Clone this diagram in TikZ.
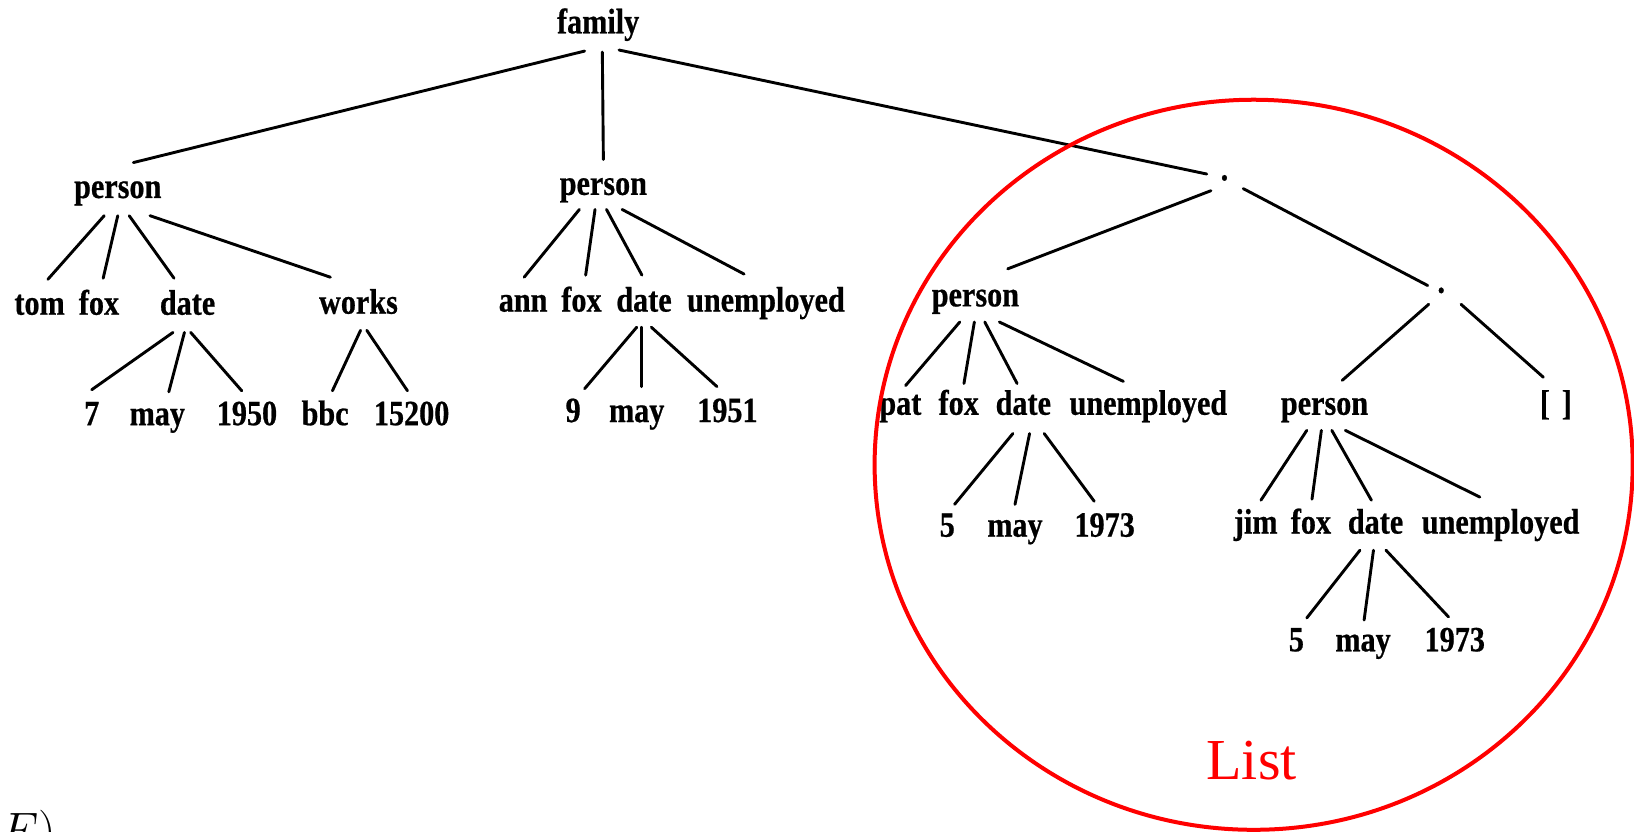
\documentclass[tikz,border=0pt]{standalone}
\usepackage{fontspec}
\setmainfont{Liberation Serif}
\newfontfamily\treefont{Liberation Serif}[FakeStretch=0.85, BoldFeatures={FakeBold=0.6}]
\usetikzlibrary{calc,shapes.geometric}

% one branch of the term tree: parent, offset at parent, child, offset at child
\newcommand{\branch}[6]{\draw[branchline] ($(#1.base)+(#2,#3)$) -- ($(#4.base)+(#5,#6)$);}

\begin{document}
\begin{tikzpicture}[
  x=0.521pt, y=-0.521pt,
  lbl/.style={inner sep=0pt, anchor=base, font=\treefont\bfseries\fontsize{17.75pt}{20pt}\selectfont},
  branchline/.style={line width=1.45pt, line cap=round},
  listring/.style={draw=red, line width=2pt, ellipse, inner sep=0pt},
]
\clip (0,0) rectangle (1568,798);
\fill[white] (0,0) rectangle (1568,798);

% root and first level
\node[lbl] (fam) at (574,32) {family};
\node[lbl] (p1) at (113,190) {person};
\node[lbl] (p2) at (579,187) {person};
\node[lbl] (d1) at (1175,173) {.};

% first person
\node[lbl] (tom) at (38,302) {tom};
\node[lbl] (fox1) at (95,302) {fox};
\node[lbl] (date1) at (180,302) {date};
\node[lbl] (works) at (344,301) {works};
\node[lbl] (n7) at (88,408) {7};
\node[lbl] (may1) at (151,408) {may};
\node[lbl] (y1950) at (237,408) {1950};
\node[lbl] (bbc) at (312,408) {bbc};
\node[lbl] (n15200) at (395,408) {15200};

% second person
\node[lbl] (ann) at (502,299) {ann};
\node[lbl] (fox2) at (558,299) {fox};
\node[lbl] (date2) at (618,299) {date};
\node[lbl] (unemp2) at (735,299) {unemployed};
\node[lbl] (n9) at (550,405) {9};
\node[lbl] (may2) at (611,405) {may};
\node[lbl] (y1951) at (698,405) {1951};

% the list of children
\node[lbl] (p3) at (936,294) {person};
\node[lbl] (d2) at (1383,281) {.};
\node[lbl] (pat) at (864,398) {pat};
\node[lbl] (fox3) at (920,398) {fox};
\node[lbl] (date3) at (982,398) {date};
\node[lbl] (unemp3) at (1102,398) {unemployed};
\node[lbl] (n5a) at (909,515) {5};
\node[lbl] (may3) at (974,515) {may};
\node[lbl] (y1973a) at (1060,515) {1973};
\node[lbl] (p4) at (1271,398) {person};
\node[lbl] (nil) at (1493,398) {[\,\,]};
\node[lbl] (jim) at (1205,512) {jim};
\node[lbl] (fox4) at (1258,512) {fox};
\node[lbl] (date4) at (1320,512) {date};
\node[lbl] (unemp4) at (1440,512) {unemployed};
\node[lbl] (n5b) at (1244,625) {5};
\node[lbl] (may4) at (1308,625) {may};
\node[lbl] (y1973b) at (1396,625) {1973};

% branches
\branch{fam}{-13}{17}{p1}{15}{-34}
\branch{fam}{4}{18}{p2}{0}{-34}
\branch{fam}{20}{16}{d1}{-17}{-6}

\branch{p1}{-13}{17}{tom}{8}{-34}
\branch{p1}{0}{17}{fox1}{4}{-35}
\branch{p1}{11}{17}{date1}{-13}{-35}
\branch{p1}{31}{17}{works}{-27}{-35}
\branch{date1}{-14}{17}{n7}{0}{-34}
\branch{date1}{-3}{17}{may1}{11}{-32}
\branch{date1}{3}{17}{y1950}{-5}{-33}
\branch{works}{2}{16}{bbc}{7}{-33}
\branch{works}{8}{16}{n15200}{-4}{-33}

\branch{p2}{-23}{14}{ann}{1}{-33}
\branch{p2}{-8}{14}{fox2}{4}{-35}
\branch{p2}{3}{14}{date2}{-2}{-35}
\branch{p2}{18}{14}{unemp2}{-21}{-36}
\branch{date2}{-7}{15}{n9}{11}{-32}
\branch{date2}{-2}{15}{may2}{5}{-34}
\branch{date2}{7}{15}{y1951}{-10}{-34}

\branch{d1}{-13}{10}{p3}{31}{-36}
\branch{d1}{18}{8}{d2}{-13}{-7}
\branch{p3}{-15}{15}{pat}{5}{-28}
\branch{p3}{-1}{15}{fox3}{5}{-30}
\branch{p3}{9}{15}{date3}{-6}{-30}
\branch{p3}{23}{15}{unemp3}{-24}{-32}
\branch{date3}{-10}{18}{n5a}{7}{-31}
\branch{date3}{6}{18}{may3}{0}{-31}
\branch{date3}{20}{18}{y1973a}{-10}{-34}

\branch{d2}{-12}{11}{p4}{17}{-33}
\branch{d2}{19}{11}{nil}{-12}{-36}
\branch{p4}{-17}{15}{jim}{5}{-32}
\branch{p4}{-3}{15}{fox4}{1}{-33}
\branch{p4}{7}{15}{date4}{-4}{-32}
\branch{p4}{20}{15}{unemp4}{-20}{-35}
\branch{date4}{-15}{16}{n5b}{10}{-32}
\branch{date4}{-2}{16}{may4}{1}{-30}
\branch{date4}{10}{16}{y1973b}{-6}{-33}

% the list is ringed in red
\node[listring, minimum width=379pt, minimum height=365pt] (ring) at (1203,446) {};
\node[inner sep=0pt, anchor=base, text=red, font=\fontsize{29pt}{32pt}\selectfont] (listlbl) at (1201,748) {List};

% fragment of a caption below
\node[inner sep=0pt, anchor=base west, font=\fontsize{27pt}{30pt}\selectfont] (cap) at (0,813) {$F)$};
\end{tikzpicture}
\end{document}
